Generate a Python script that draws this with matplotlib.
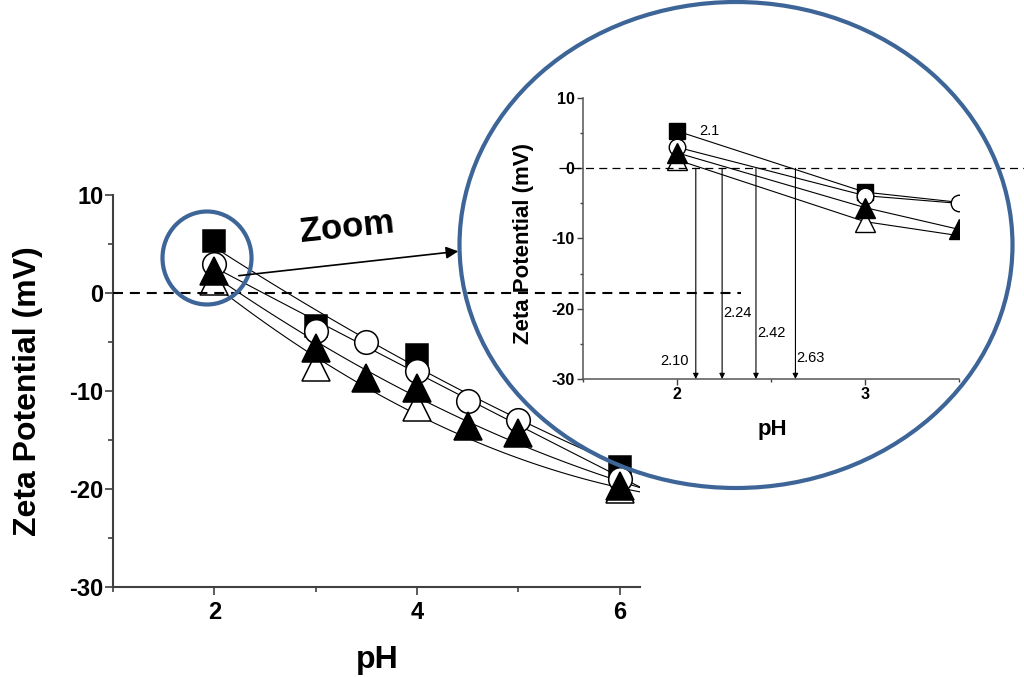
import numpy as np
import matplotlib; matplotlib.use("Agg")
import matplotlib.pyplot as plt
from matplotlib.patches import Ellipse, FancyArrowPatch
from matplotlib.ticker import MultipleLocator

plt.rcParams.update({
    "font.family": ["Liberation Sans", "DejaVu Sans"], "font.weight": "bold",
    "axes.unicode_minus": False,
    "axes.edgecolor": "#404040", "xtick.color": "#404040", "ytick.color": "#404040",
    "xtick.labelcolor": "black", "ytick.labelcolor": "black",
})
BLUE = "#3d6597"

# zeta potential vs pH, four samples
ph_sq = [2, 3, 4, 6];                    zp_sq = [5.3, -3.4, -6.3, -17.8]
ph_ci = [2, 3, 3.5, 4, 4.5, 5, 6];       zp_ci = [3.0, -3.9, -5.0, -8.0, -11.0, -13.0, -19.0]
ph_ft = [2, 3, 3.5, 4, 4.5, 5, 6];       zp_ft = [2.2, -5.6, -8.7, -9.7, -13.6, -14.3, -19.7]
ph_ot = [2, 3, 4, 6];                    zp_ot = [1.2, -7.6, -11.6, -20.0]
# isoelectric points marked in the zoom
iep = [2.10, 2.24, 2.42, 2.63]
iep_lab_y = [-27.5, -20.6, -23.5, -27.0]

series = [  # (x, y, marker, face) drawn bottom to top
    (ph_sq, zp_sq, "s", "black"),
    (ph_ot, zp_ot, "^", "white"),
    (ph_ci, zp_ci, "o", "white"),
    (ph_ft, zp_ft, "^", "black"),
]
msize = {"s": 16, "o": 17, "^": 20}

fig = plt.figure(figsize=(10.24, 6.77), dpi=100)
W, H = 1024, 677

# ------------------------------------------------------------- main plot
ax = fig.add_axes([113 / W, 1 - 587 / H, 527 / W, 392 / H])
xs = np.linspace(2, 6.2, 120)
for x, y, m, fc in series:
    c = np.polyfit(x, y, 2)
    ax.plot(xs, np.polyval(c, xs), color="black", lw=0.8, zorder=2)
for x, y, m, fc in series:
    ax.plot(x, y, ls="none", marker=m, ms=msize[m], mfc=fc, mec="black", mew=1.1, zorder=3)
ax.plot([1, 7.2], [0, 0], color="black", lw=1.5, dashes=(4.8, 3.3), clip_on=False, zorder=6)

ax.set_xlim(1, 6.2); ax.set_ylim(-30, 10)
ax.xaxis.set_major_locator(MultipleLocator(2)); ax.xaxis.set_minor_locator(MultipleLocator(1))
ax.yaxis.set_major_locator(MultipleLocator(10)); ax.yaxis.set_minor_locator(MultipleLocator(5))
for s in ("top", "right"):
    ax.spines[s].set_visible(False)
for s in ("left", "bottom"):
    ax.spines[s].set_linewidth(1.5)
ax.tick_params(which="major", length=6, width=1.2, labelsize=17)
ax.tick_params(which="minor", length=3.5, width=1.2)
ax.tick_params(axis="y", pad=1)
ax.tick_params(axis="x", pad=4)
for t in ax.get_xticklabels() + ax.get_yticklabels():
    t.set_fontweight("bold")
fig.text(28 / W, 1 - 391 / H, "Zeta Potential (mV)", rotation=90, ha="center", va="center",
         fontsize=23, fontweight="bold")
fig.text(377 / W, 1 - 660 / H, "pH", ha="center", va="center", fontsize=23, fontweight="bold")

# ------------------------------------------------------------- zoom inset
ax_in = fig.add_axes([583 / W, 1 - 379 / H, 376 / W, 281 / H])
ax_in.patch.set_alpha(0)
for x, y, m, fc in series:
    ax_in.plot(x, y, color="black", lw=0.8, zorder=2)
for x, y, m, fc in series:
    ax_in.plot(x, y, ls="none", marker=m, ms=msize[m] * 0.7, mfc=fc, mec="black", mew=1.0, zorder=3)
ax_in.plot([1.37, 3.85], [0, 0], color="black", lw=0.9, dashes=(6.4, 4.2), clip_on=False, zorder=6)
for xv in iep:
    ax_in.annotate("", xy=(xv, -30), xytext=(xv, 0),
                   arrowprops=dict(arrowstyle="-|>", lw=0.8, color="black", mutation_scale=8,
                                   shrinkA=0, shrinkB=0))
for i, (xv, yv) in enumerate(zip(iep, iep_lab_y)):
    if i == 0:
        ax_in.text(xv - 0.035, yv, f"{xv:.2f}", ha="right", va="center", fontsize=10.5, fontweight="normal")
    else:
        ax_in.text(xv + 0.005, yv, f"{xv:.2f}", ha="left", va="center", fontsize=10.5, fontweight="normal")
ax_in.text(2.12, 5.3, "2.1", ha="left", va="center", fontsize=10.5, fontweight="normal")

ax_in.set_xlim(1.5, 3.5); ax_in.set_ylim(-30, 10)
ax_in.xaxis.set_major_locator(MultipleLocator(1)); ax_in.xaxis.set_minor_locator(MultipleLocator(0.5))
ax_in.yaxis.set_major_locator(MultipleLocator(10)); ax_in.yaxis.set_minor_locator(MultipleLocator(5))
for s in ("top", "right"):
    ax_in.spines[s].set_visible(False)
for s in ("left", "bottom"):
    ax_in.spines[s].set_linewidth(1.1); ax_in.spines[s].set_color("#555555")
ax_in.tick_params(which="major", length=4, width=1, labelsize=11.5, pad=2)
ax_in.tick_params(which="minor", length=2.5, width=1)
for t in ax_in.get_xticklabels() + ax_in.get_yticklabels():
    t.set_fontweight("bold")
fig.text(523 / W, 1 - 244 / H, "Zeta Potential (mV)", rotation=90, ha="center", va="center",
         fontsize=16, fontweight="bold")
fig.text(772 / W, 1 - 430 / H, "pH", ha="center", va="center", fontsize=16, fontweight="bold")

# ------------------------------------------------------------- zoom callout
fig.add_artist(Ellipse((736 / W, 1 - 245 / H), 553 / W, 486 / H, transform=fig.transFigure,
                       fill=False, edgecolor=BLUE, lw=3, zorder=10))
fig.add_artist(Ellipse((207 / W, 1 - 258 / H), 89 / W, 93 / H, transform=fig.transFigure,
                       fill=False, edgecolor=BLUE, lw=3, zorder=10))
fig.add_artist(FancyArrowPatch(
    (236 / W, 1 - 276 / H), (461 / W, 1 - 251 / H), transform=fig.transFigure,
    arrowstyle="-|>", mutation_scale=18, lw=1.2, color="black", zorder=11))
fig.text(347 / W, 1 - 228 / H, "Zoom", ha="center", va="center", rotation=6,
         fontsize=25, fontweight="bold")

fig.savefig("out.png", dpi=100)
